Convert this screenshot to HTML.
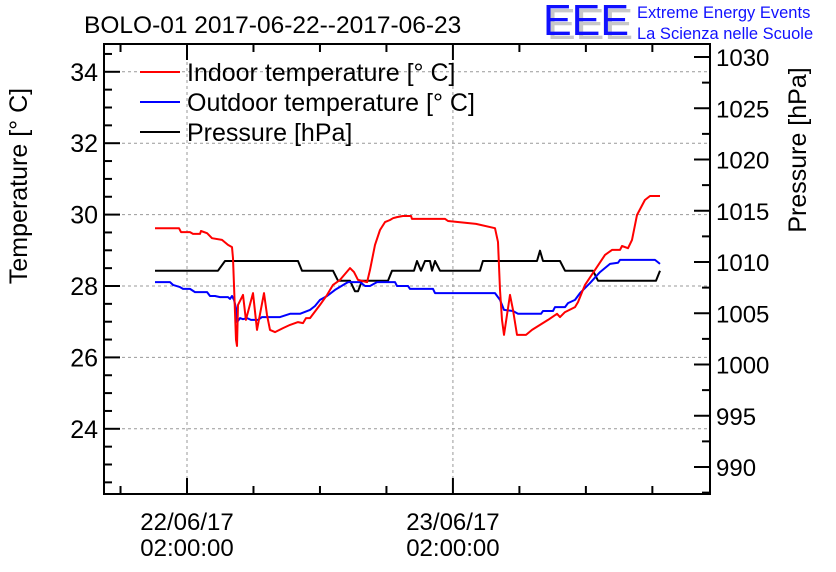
<!DOCTYPE html>
<html><head><meta charset="utf-8"><style>
body{margin:0;background:#fff;}
svg{display:block;font-family:"Liberation Sans",sans-serif;}
</style></head><body>
<svg id="chart" width="836" height="572" viewBox="0 0 836 572">
<text x="84" y="33" font-size="24.5">BOLO-01 2017-06-22--2017-06-23</text>
<g>
<text x="547" y="39" font-size="44" fill="#c8c8c8" textLength="86" lengthAdjust="spacingAndGlyphs">EEE</text>
<text x="543" y="35" font-size="44" fill="#1010ff" textLength="86" lengthAdjust="spacingAndGlyphs">EEE</text>
<text x="637" y="18" font-size="16.5" fill="#1010ff">Extreme Energy Events</text>
<text x="637" y="39" font-size="16.5" fill="#1010ff">La Scienza nelle Scuole</text>
</g>
<g id="grid"></g>
<g id="series"></g>
<g id="axes"></g>
<text transform="translate(27,186) rotate(-90)" text-anchor="middle" font-size="25">Temperature [° C]</text>
<text transform="translate(806,150) rotate(-90)" text-anchor="middle" font-size="25">Pressure [hPa]</text>
<g>
<line x1="140" y1="72" x2="180" y2="72" stroke="#f00" stroke-width="2"/><text x="187" y="81" font-size="25">Indoor temperature [° C]</text>
<line x1="140" y1="102" x2="180" y2="102" stroke="#00f" stroke-width="2"/><text x="187" y="111" font-size="25">Outdoor temperature [° C]</text>
<line x1="140" y1="132" x2="180" y2="132" stroke="#000" stroke-width="2"/><text x="187" y="141" font-size="25">Pressure [hPa]</text>
</g>
</svg>
<script>
// hours since 22/06/17 00:00
const indoorHours=[-0.89,1.28,1.46,2.27,2.54,3.17,3.26,3.81,4.26,5.16,5.70,6.06,6.15,6.42,6.51,6.60,7.05,7.32,7.96,8.32,8.95,9.22,9.49,9.94,10.66,11.30,12.02,12.47,12.74,13.10,14.00,14.64,15.18,15.81,16.71,17.07,17.43,18.25,18.52,18.97,19.42,19.87,20.32,20.59,20.95,21.49,22.22,22.31,25.29,25.56,28.08,29.80,30.07,30.25,30.43,30.61,31.15,31.42,31.78,32.60,33.14,33.86,34.58,35.39,35.66,36.12,37.02,37.29,37.92,38.82,39.73,40.36,41.08,41.26,41.80,42.16,42.61,43.33,43.79,44.69];
const indoorTemp=[29.62,29.62,29.51,29.51,29.46,29.46,29.54,29.48,29.34,29.29,29.15,29.09,28.78,26.49,26.32,27.47,27.75,27.05,27.80,26.77,27.80,27.19,26.77,26.71,26.82,26.91,26.99,26.96,27.10,27.10,27.47,27.75,28.03,28.17,28.50,28.39,28.17,28.11,28.45,29.15,29.57,29.79,29.85,29.90,29.93,29.96,29.96,29.88,29.88,29.82,29.74,29.62,29.23,27.89,27.05,26.63,27.75,27.33,26.63,26.63,26.77,26.91,27.05,27.22,27.13,27.27,27.41,27.55,28.03,28.45,28.87,29.01,29.01,29.12,29.06,29.29,29.99,30.41,30.52,30.52];
const outdoorHours=[-0.89,0.47,0.74,1.37,1.64,2.27,2.72,3.81,4.08,4.53,4.98,5.70,5.88,6.06,6.24,6.42,6.51,6.78,7.05,7.42,7.78,8.41,8.77,9.49,10.39,11.30,12.20,13.10,13.55,14.00,14.64,15.36,16.26,16.53,17.61,18.07,18.52,19.15,20.77,20.95,21.95,22.13,24.20,24.38,29.80,30.25,30.61,31.42,31.87,33.95,34.13,35.03,35.21,36.12,36.39,37.02,37.47,38.37,39.27,40.18,40.90,41.08,44.24,44.69];
const outdoorTemp=[28.11,28.11,28.03,27.97,27.92,27.92,27.83,27.83,27.72,27.72,27.69,27.69,27.64,27.72,27.61,27.38,26.99,27.10,27.07,27.10,27.05,27.05,27.13,27.13,27.13,27.22,27.22,27.33,27.44,27.61,27.72,27.89,28.06,28.11,28.11,28.00,28.00,28.11,28.11,28.00,28.00,27.92,27.92,27.80,27.80,27.61,27.33,27.30,27.22,27.22,27.30,27.30,27.41,27.41,27.52,27.61,27.80,28.08,28.39,28.62,28.65,28.73,28.73,28.62];
const pressHours=[-0.89,4.80,5.43,12.02,12.38,15.18,15.63,16.71,17.16,17.43,17.79,20.14,20.50,22.49,22.76,23.12,23.48,23.93,24.11,24.38,24.83,28.44,28.71,33.59,33.86,34.13,35.66,36.12,38.64,39.09,44.33,44.69];
const pressure=[1009.15,1009.15,1010.1,1010.1,1009.15,1009.15,1008.18,1008.18,1007.14,1007.14,1008.18,1008.18,1009.15,1009.15,1010.1,1009.15,1010.1,1010.1,1009.15,1010.1,1009.15,1009.15,1010.1,1010.1,1011.1,1010.1,1010.1,1009.15,1009.15,1008.18,1008.18,1009.15];
const tempTicks=[24,26,28,30,32,34];
const pressTicks=[990,995,1000,1005,1010,1015,1020,1025,1030];
const xTickHours=[2,26];
const xTickLabels=[["22/06/17","02:00:00"],["23/06/17","02:00:00"]];

const L=104,R=710,T=44,B=494;
const xs=h=>187+(h-2)*11.08;
const yT=t=>286-(t-28)*35.7;
const yP=p=>262-(p-1010)*10.25;
const NS="http://www.w3.org/2000/svg";
function mk(tag,attrs,parent){const e=document.createElementNS(NS,tag);for(const k in attrs)e.setAttribute(k,attrs[k]);parent.appendChild(e);return e;}
const grid=document.getElementById('grid'),axes=document.getElementById('axes'),series=document.getElementById('series');
tempTicks.forEach(t=>{const g=mk('line',{x1:L,x2:R,y1:yT(t),y2:yT(t),stroke:'#999','stroke-dasharray':'3,3'},grid);

});
xTickHours.forEach(h=>{const g=mk('line',{x1:xs(h),x2:xs(h),y1:T,y2:B,stroke:'#999','stroke-dasharray':'3,3'},grid);

});
function line(hs,vs,fy,color,name){const d=hs.map((h,i)=>(i?'L':'M')+xs(h).toFixed(1)+','+fy(vs[i]).toFixed(1)).join('');
const p=mk('path',{d:d,fill:'none',stroke:color,'stroke-width':2,'stroke-linejoin':'round'},series);

}
line(pressHours,pressure,yP,'#000','pressure-line');
line(outdoorHours,outdoorTemp,yT,'#00f','outdoor-temperature-line');
line(indoorHours,indoorTemp,yT,'#f00','indoor-temperature-line');
const fr=mk('rect',{x:L,y:T,width:R-L,height:B-T,fill:'none',stroke:'#000','stroke-width':2},axes);


for(let t=22.5;t<=34.5;t+=0.5){const major=Math.abs(t-Math.round(t/2)*2)<1e-6;
mk('line',{x1:L,x2:L+(major?16:8),y1:yT(t),y2:yT(t),stroke:'#000','stroke-width':2},axes);}
tempTicks.forEach(t=>{const e=mk('text',{x:L-6,y:yT(t)+9,'text-anchor':'end','font-size':25},axes);e.textContent=t;

});
for(let p=987.5;p<=1030;p+=2.5){const major=Math.abs(p%5)<1e-6;
mk('line',{x1:R,x2:R-(major?16:8),y1:yP(p),y2:yP(p),stroke:'#000','stroke-width':2},axes);}
pressTicks.forEach(p=>{const e=mk('text',{x:R+6,y:yP(p)+9,'font-size':24},axes);e.textContent=p;

});
for(let h=-4;h<=44;h+=6){const major=xTickHours.includes(h);const x=xs(h);if(x<L||x>R)continue;
mk('line',{x1:x,x2:x,y1:B,y2:B-(major?16:8),stroke:'#000','stroke-width':2},axes);
mk('line',{x1:x,x2:x,y1:T,y2:T+(major?16:8),stroke:'#000','stroke-width':2},axes);}
xTickHours.forEach((h,i)=>{xTickLabels[i].forEach((s,j)=>{const e=mk('text',{x:xs(h),y:530+j*26,'text-anchor':'middle','font-size':24},axes);e.textContent=s;

});});
</script>
</body></html>
